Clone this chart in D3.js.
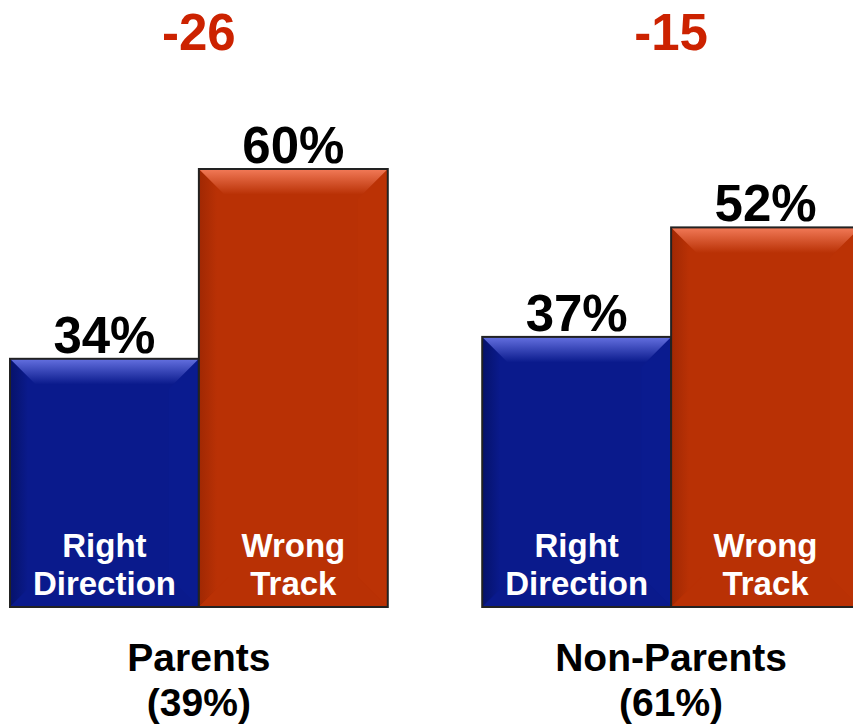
<!DOCTYPE html>
<html><head><meta charset="utf-8">
<script src="https://cdn.jsdelivr.net/npm/d3@7"></script>
<style>body{margin:0;background:#fff;overflow:hidden}svg{display:block}text{font-family:"Liberation Sans",Arial,Helvetica,sans-serif;font-weight:bold}</style>
</head><body>
<svg id="c" width="853" height="727"></svg>
<script>
const groups = ["Parents", "Non-Parents"];
const groupShares = ["(39%)", "(61%)"];
const series = ["Right Direction", "Wrong Track"];
const seriesLines = [["Right", "Direction"], ["Wrong", "Track"]];
const rightDirection = [34, 37];
const wrongTrack = [60, 52];
const differences = ["-26", "-15"];

const svg = d3.select("#c");
const baseY = 607;
const y = d3.scaleLinear().domain([0, 100]).range([baseY, baseY - 730]);
const x0 = d3.scaleBand().domain(groups).range([10, 860]).paddingInner(0.2).paddingOuter(0);
const x1 = d3.scaleBand().domain(series).range([0, x0.bandwidth()]).padding(0);
const colors = {"Right Direction": {base:"#0a1a8c", light:"#6470e0", dark:"#06126a", side:"#0a1b8f"},
                "Wrong Track": {base:"#b93105", light:"#f27a58", dark:"#a02803", side:"#bb3205"}};

const defs = svg.append("defs");
series.forEach((s,i)=>{
  const c = colors[s];
  const g = defs.append("linearGradient").attr("id","top"+i).attr("x1",0).attr("y1",0).attr("x2",0).attr("y2",1);
  g.append("stop").attr("offset",0).attr("stop-color",c.light);
  g.append("stop").attr("offset",0.85).attr("stop-color",c.base);
  const l = defs.append("linearGradient").attr("id","left"+i).attr("x1",0).attr("y1",0).attr("x2",1).attr("y2",0);
  l.append("stop").attr("offset",0).attr("stop-color",c.dark);
  l.append("stop").attr("offset",0.6).attr("stop-color",c.base);
});

const data = [];
groups.forEach((g,gi)=>{
  data.push({g, gi, s:series[0], si:0, v:rightDirection[gi]});
  data.push({g, gi, s:series[1], si:1, v:wrongTrack[gi]});
});

const bev = 30;
data.forEach(d=>{
  const xL = x0(d.g) + x1(d.s), w = x1.bandwidth();
  const xR = xL + w, yT = y(d.v), yB = y(0);
  const c = colors[d.s];
  const gEl = svg.append("g");
  gEl.append("rect").attr("x",xL).attr("y",yT).attr("width",w).attr("height",yB-yT).attr("fill",c.base);
  gEl.append("polygon").attr("points",[[xL,yT],[xL+bev,yT+bev],[xL+bev,yB-bev],[xL,yB]].join(" ")).attr("fill","url(#left"+d.si+")");
  gEl.append("polygon").attr("points",[[xR,yT],[xR-bev,yT+bev],[xR-bev,yB-bev],[xR,yB]].join(" ")).attr("fill",c.side);
  gEl.append("polygon").attr("points",[[xL,yB],[xL+bev,yB-bev],[xR-bev,yB-bev],[xR,yB]].join(" ")).attr("fill",c.base);
  gEl.append("polygon").attr("points",[[xL,yT],[xL+bev,yT+bev],[xR-bev,yT+bev],[xR,yT]].join(" ")).attr("fill","url(#top"+d.si+")");
  gEl.append("rect").attr("x",xL).attr("y",yT).attr("width",w).attr("height",yB-yT).attr("fill","none").attr("stroke","#222").attr("stroke-width",2);
  svg.append("text").attr("x",xL+w/2).attr("y",yT-6).attr("text-anchor","middle").attr("font-size",51).attr("fill","#000").text(d.v+"%");
  seriesLines[d.si].forEach((line,li)=>{
    svg.append("text").attr("x",xL+w/2).attr("y",yB-50+li*38).attr("text-anchor","middle").attr("font-size",33).attr("fill","#fff").text(line);
  });
});

groups.forEach((g,gi)=>{
  const cx = x0(g) + x0.bandwidth()/2;
  svg.append("text").attr("x",cx).attr("y",50).attr("text-anchor","middle").attr("font-size",51).attr("fill","#cc2200").text(differences[gi]);
  svg.append("text").attr("x",cx).attr("y",671).attr("text-anchor","middle").attr("font-size",39).attr("fill","#000").text(g);
  svg.append("text").attr("x",cx).attr("y",716).attr("text-anchor","middle").attr("font-size",39).attr("fill","#000").text(groupShares[gi]);
});
</script>
</body></html>
